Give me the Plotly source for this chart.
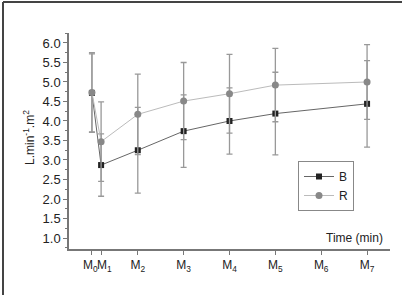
import plotly.graph_objects as go

# Data
time_min = [0, 1, 5, 10, 15, 20, 30]
tick_vals = [0, 1, 5, 10, 15, 20, 25, 30]
tick_text = ["M<sub>0</sub>\u00a0", "\u00a0\u00a0M<sub>1</sub>", "M<sub>2</sub>", "M<sub>3</sub>",
             "M<sub>4</sub>", "M<sub>5</sub>", "M<sub>6</sub>", "M<sub>7</sub>"]
b_vals = [4.72, 2.87, 3.25, 3.74, 4.00, 4.19, 4.44]
b_err = [1.00, 0.80, 1.10, 0.93, 0.85, 1.06, 1.11]
r_vals = [4.73, 3.47, 4.17, 4.51, 4.70, 4.92, 5.00]
r_err = [1.02, 1.02, 1.03, 0.99, 1.01, 0.94, 0.96]

FONT = "Liberation Sans, Arial, sans-serif"
W, H = 402, 295
L, R, T, B = 69, 12, 33, 46
pw, ph = W - L - R, H - T - B

def px(x):
    return (x - L) / pw

def py(y):
    return (H - B - y) / ph

fig = go.Figure()
fig.add_trace(go.Scatter(
    x=time_min, y=b_vals, name="B", mode="lines+markers",
    line=dict(color="#666666", width=1),
    marker=dict(symbol="square", size=6, color="#222222"),
    error_y=dict(type="data", array=b_err, visible=True, color="#999999", thickness=1.3, width=3),
))
fig.add_trace(go.Scatter(
    x=time_min, y=r_vals, name="R", mode="lines+markers",
    line=dict(color="#bbbbbb", width=1),
    marker=dict(symbol="circle", size=7, color="#888888"),
    error_y=dict(type="data", array=r_err, visible=True, color="#999999", thickness=1.3, width=3),
))

fig.update_layout(
    width=W, height=H,
    margin=dict(l=L, r=R, t=T, b=B),
    paper_bgcolor="white", plot_bgcolor="white",
    font=dict(family=FONT, size=12, color="#222222"),
    showlegend=True,
    legend=dict(x=px(298), y=py(161), xanchor="left", yanchor="top",
                bgcolor="white", bordercolor="#888888", borderwidth=1,
                font=dict(size=12), itemwidth=30, tracegroupgap=0),
    xaxis=dict(range=[-2.5, 32.5], tickvals=tick_vals, ticktext=tick_text, tickangle=0,
               showgrid=False, zeroline=False, showline=True, linecolor="#777777", linewidth=1.5,
               ticks="outside", ticklen=4, tickcolor="#777777", tickfont=dict(size=12)),
    yaxis=dict(range=[0.718, 6.256], tickvals=[1.0, 1.5, 2.0, 2.5, 3.0, 3.5, 4.0, 4.5, 5.0, 5.5, 6.0],
               tickformat=".1f", showgrid=False, zeroline=False, showline=True,
               linecolor="#777777", linewidth=1.5, ticks="outside", ticklen=4, tickcolor="#777777",
               tickfont=dict(size=13),
               minor=dict(dtick=0.25, ticks="outside", ticklen=2, tickcolor="#777777", showgrid=False)),
    annotations=[
        dict(text="Time (min)", xref="paper", yref="paper", x=px(385), y=py(238),
             xanchor="right", yanchor="middle", showarrow=False, font=dict(size=12)),
        dict(text="L.min<sup>-1</sup>.m<sup>2</sup>", xref="paper", yref="paper", x=px(29), y=py(138),
             xanchor="center", yanchor="middle", textangle=-90, showarrow=False, font=dict(size=12)),
    ],
    shapes=[
        dict(type="line", xref="paper", yref="paper", x0=px(3), x1=px(402), y0=py(2), y1=py(2),
             line=dict(color="#444444", width=2)),
        dict(type="line", xref="paper", yref="paper", x0=px(3), x1=px(3), y0=py(2), y1=py(295),
             line=dict(color="#444444", width=2)),
    ],
)

fig.write_html("out.html")
